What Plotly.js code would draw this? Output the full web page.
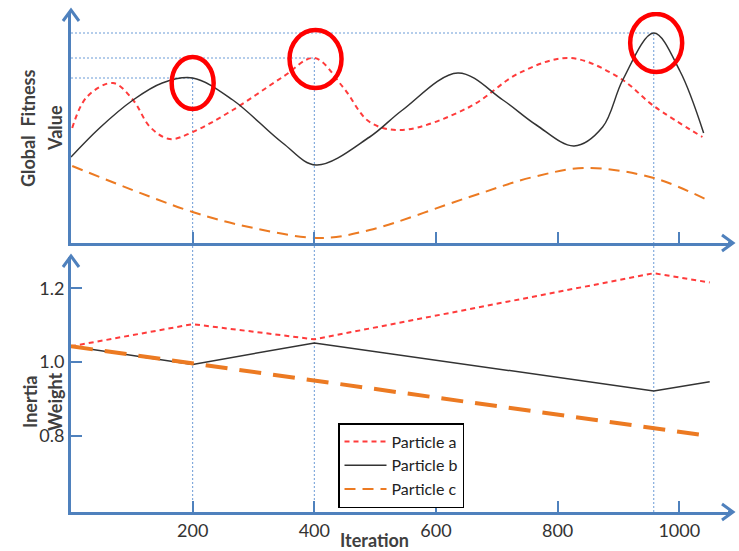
<!DOCTYPE html>
<html>
<head>
<meta charset="utf-8">
<script src="https://cdn.plot.ly/plotly-3.0.1.min.js"></script>
<style>html,body{margin:0;padding:0;background:#fff;}#chart{width:739px;height:551px;}</style>
</head>
<body>
<div id="chart"></div>
<script>
// ---- Data ----
// Top panel: Global Fitness Value (arbitrary units)
const fitAX = [2, 26, 69, 102, 130, 162, 200, 266, 348, 400, 447, 491, 545, 655, 737, 820, 902, 958, 1038];
const fitAV = [115, 146, 160, 143, 116, 104, 111, 133, 166, 185, 156, 121, 113, 136, 170, 185, 165, 137, 106];
const fitBX = [0, 47, 102, 150, 200, 266, 348, 403, 491, 545, 636, 710, 765, 827, 874, 907, 958, 1001, 1040];
const fitBV = [86, 115, 143, 160, 165, 143, 100, 78, 106, 133, 170, 143, 118, 97, 116, 163, 210, 172, 110];
const fitCX = [2, 200, 300, 410, 491, 655, 760, 847, 958, 1046];
const fitCV = [77, 31, 15, 5, 13, 46, 66, 75, 65, 43];

// Bottom panel: Inertia Weight
const iwAX = [0, 200, 400, 958, 1050];
const iwAV = [1.043, 1.103, 1.062, 1.241, 1.216];
const iwBX = [0, 200, 400, 958, 1050];
const iwBV = [1.043, 0.994, 1.052, 0.922, 0.947];
const iwCX = [0, 1050];
const iwCV = [1.043, 0.800];

const names = ["Particle a", "Particle b", "Particle c"];
const xTicks = [200, 400, 600, 800, 1000];
const yTicks = [0.8, 1.0, 1.2];
const yTickText = ["0.8", "1.0", "1.2"];

// Marked peaks (global best moments)
const peakX = [200, 400, 958];
const peakV = [165, 185, 210];
const circleX = [200, 402, 962];
const circleV = [160, 184, 200];
const circleRX = [21, 26, 26];
const circleRY = [26, 29, 29];

// ---- Layout geometry ----
const W = 739, H = 551;
const M = {l: 71, r: 8, t: 12, b: 39};
const PW = W - M.l - M.r, PH = H - M.t - M.b;
const px = v => (v - M.l) / PW;
const py = v => (H - M.b - v) / PH;

const topDom = [0.538, 1];
const topRange = [0, 231];
const botDom = [0, 0.51];
const botRange = [0.594, 1.285];
const xRange = [0, 1085];

const BLUE = '#4f81bd';
const RED = '#ff3b3b';
const BLACK = '#333333';
const ORANGE = '#ec7a22';
const FONT = 'Lato, "Open Sans", sans-serif';

const traces = [
  {x: fitAX, y: fitAV, xaxis: 'x2', yaxis: 'y2', mode: 'lines', name: names[0],
   line: {color: RED, width: 2, dash: '5px,4px', shape: 'spline', smoothing: 1}},
  {x: fitBX, y: fitBV, xaxis: 'x2', yaxis: 'y2', mode: 'lines', name: names[1],
   line: {color: BLACK, width: 1.5, shape: 'spline', smoothing: 1}},
  {x: fitCX, y: fitCV, xaxis: 'x2', yaxis: 'y2', mode: 'lines', name: names[2],
   line: {color: ORANGE, width: 2, dash: '11px,7px', shape: 'spline', smoothing: 1}},
  {x: iwAX, y: iwAV, xaxis: 'x', yaxis: 'y', mode: 'lines', name: names[0], showlegend: false,
   line: {color: RED, width: 2, dash: '5px,4px'}},
  {x: iwBX, y: iwBV, xaxis: 'x', yaxis: 'y', mode: 'lines', name: names[1], showlegend: false,
   line: {color: BLACK, width: 1.5}},
  {x: iwCX, y: iwCV, xaxis: 'x', yaxis: 'y', mode: 'lines', name: names[2], showlegend: false,
   line: {color: ORANGE, width: 4, dash: '22px,12px'}}
];

const shapes = [];
// reference dotted lines
const topPaper = v => topDom[0] + (v - topRange[0]) / (topRange[1] - topRange[0]) * (topDom[1] - topDom[0]);
peakX.forEach((xv, i) => {
  shapes.push({type: 'line', layer: 'below', xref: 'x2', yref: 'y2', x0: 0, x1: xv, y0: peakV[i], y1: peakV[i],
               line: {color: '#6b9bd6', width: 1, dash: '2px,2px'}});
  shapes.push({type: 'line', layer: 'below', xref: 'x', yref: 'paper', x0: xv, x1: xv, y0: 0, y1: topPaper(peakV[i]),
               line: {color: '#6b9bd6', width: 1, dash: '2px,2px'}});
});
// red circles
circleX.forEach((xv, i) => {
  shapes.push({type: 'circle', xref: 'x2', yref: 'y2', xsizemode: 'pixel', ysizemode: 'pixel',
               xanchor: xv, yanchor: circleV[i], x0: -circleRX[i], x1: circleRX[i], y0: -circleRY[i], y1: circleRY[i],
               line: {color: '#ff0000', width: 4.5}});
});
// axis arrowheads
function chevron(points) {
  return {type: 'path', xref: 'paper', yref: 'paper',
          path: 'M' + points.map(p => px(p[0]) + ',' + py(p[1])).join(' L'),
          line: {color: BLUE, width: 3}};
}
shapes.push(chevron([[63, 21], [71, 10], [79, 21]]));
shapes.push(chevron([[63, 267], [71, 256], [79, 267]]));
shapes.push(chevron([[722, 235], [733, 243], [722, 251]]));
shapes.push(chevron([[722, 504], [733, 512], [722, 520]]));
shapes.push({type: 'line', xref: 'paper', yref: 'paper', x0: px(728), x1: px(733), y0: py(243), y1: py(243), line: {color: BLUE, width: 3}});
shapes.push({type: 'line', xref: 'paper', yref: 'paper', x0: px(728), x1: px(733), y0: py(512), y1: py(512), line: {color: BLUE, width: 3}});

const titleFont = {family: FONT, size: 18, color: '#404040', weight: 'bold'};
function lab(text, cx, cy, angle) {
  return {text: '<b>' + text + '</b>', xref: 'paper', yref: 'paper', x: px(cx), y: py(cy),
          xanchor: 'center', yanchor: 'middle', showarrow: false, textangle: angle, font: titleFont};
}
const annotations = [
  lab('Global  Fitness', 28, 128, -90),
  lab('Value', 55, 128, -90),
  lab('Inertia', 30, 402, -90),
  lab('Weight', 55, 402, -90),
  lab('Iteration', 374, 540, 0)
];

const axBase = {showline: true, linecolor: BLUE, linewidth: 3, showgrid: false, zeroline: false,
                tickcolor: BLUE, tickwidth: 2, ticklen: 11, ticks: 'inside',
                tickfont: {family: FONT, size: 18, color: '#333'}};

const layout = {
  width: W, height: H, margin: M,
  paper_bgcolor: '#fff', plot_bgcolor: '#fff',
  font: {family: FONT},
  xaxis: Object.assign({}, axBase, {domain: [0, 1], range: xRange, anchor: 'y', tickvals: xTicks, ticktext: xTicks.map(String)}),
  yaxis: Object.assign({}, axBase, {domain: botDom, range: botRange, anchor: 'x', tickvals: yTicks, ticktext: yTickText}),
  xaxis2: Object.assign({}, axBase, {domain: [0, 1], range: xRange, anchor: 'y2', tickvals: xTicks, showticklabels: false}),
  yaxis2: Object.assign({}, axBase, {domain: topDom, range: topRange, anchor: 'x2', ticks: '', showticklabels: false}),
  showlegend: true,
  legend: {x: px(338), y: py(423), xanchor: 'left', yanchor: 'top', bgcolor: '#fff',
           bordercolor: '#000', borderwidth: 1.5, font: {family: FONT, size: 16, color: '#222'},
           tracegroupgap: 0, itemwidth: 42},
  shapes: shapes,
  annotations: annotations
};

Plotly.newPlot('chart', traces, layout, {displayModeBar: false, staticPlot: true});
</script>
</body>
</html>
